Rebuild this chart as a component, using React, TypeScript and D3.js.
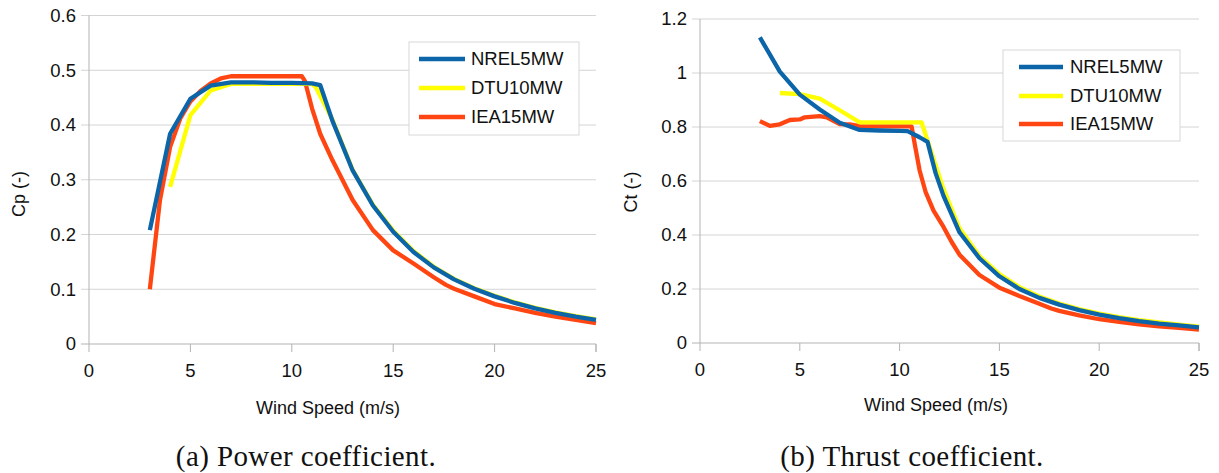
import React from "react";
import * as d3 from "d3";

// ---------- Data ----------
const seriesNames = ["NREL5MW", "DTU10MW", "IEA15MW"];
const seriesColors = ["#0b65a8", "#ffff00", "#ff4612"];

// Power coefficient (Cp)
const nrelCpWind = [3, 4, 5, 6, 7, 8, 9, 10, 11, 11.4, 12, 13, 14, 15, 16, 17, 18, 19, 20, 21, 22, 23, 24, 25];
const nrelCp = [0.208, 0.384, 0.448, 0.472, 0.478, 0.478, 0.477, 0.477, 0.476, 0.473, 0.408, 0.317, 0.253, 0.205, 0.168, 0.14, 0.118, 0.101, 0.087, 0.075, 0.065, 0.057, 0.05, 0.044];

const dtuCpWind = [4, 5, 6, 7, 8, 9, 10, 11, 11.2, 12, 13, 14, 15, 16, 17, 18, 19, 20, 21, 22, 23, 24, 25];
const dtuCp = [0.287, 0.418, 0.463, 0.475, 0.475, 0.475, 0.475, 0.475, 0.468, 0.41, 0.318, 0.254, 0.207, 0.17, 0.141, 0.119, 0.102, 0.088, 0.076, 0.066, 0.058, 0.051, 0.045];

const ieaCpWind = [3, 3.5, 4, 4.5, 5, 5.5, 6, 6.5, 7, 8, 9, 10, 10.5, 10.65, 11, 11.4, 12, 13, 14, 15, 16, 17, 17.6, 18, 19, 20, 21, 22, 23, 24, 25];
const ieaCp = [0.1, 0.263, 0.36, 0.412, 0.443, 0.462, 0.476, 0.485, 0.489, 0.489, 0.489, 0.489, 0.489, 0.48, 0.43, 0.384, 0.336, 0.263, 0.208, 0.171, 0.147, 0.122, 0.108, 0.101, 0.087, 0.073, 0.065, 0.057, 0.05, 0.044, 0.038];

// Thrust coefficient (Ct)
const nrelCtWind = [3, 4, 5, 6, 7, 8, 9, 10, 10.4, 11, 11.4, 11.8, 12.2, 13, 14, 15, 16, 17, 18, 19, 20, 21, 22, 23, 24, 25];
const nrelCt = [1.132, 1.005, 0.92, 0.865, 0.816, 0.789, 0.787, 0.786, 0.785, 0.762, 0.745, 0.63, 0.545, 0.41, 0.314, 0.247, 0.2, 0.167, 0.142, 0.122, 0.105, 0.092, 0.081, 0.072, 0.065, 0.058];

const dtuCtWind = [4, 5, 6, 7, 8, 9, 10, 11, 11.1, 11.4, 11.8, 12.2, 13, 14, 15, 16, 17, 18, 19, 20, 21, 22, 23, 24, 25];
const dtuCt = [0.926, 0.922, 0.905, 0.862, 0.817, 0.817, 0.817, 0.817, 0.817, 0.75, 0.66, 0.57, 0.425, 0.322, 0.255, 0.207, 0.172, 0.146, 0.126, 0.109, 0.096, 0.085, 0.076, 0.068, 0.061];

const ieaCtWind = [3, 3.5, 4, 4.5, 5, 5.25, 6, 6.35, 7, 7.5, 8, 9, 10, 10.6, 10.8, 11, 11.3, 11.7, 12.2, 12.6, 13, 14, 15, 16, 17, 17.6, 18, 19, 20, 21, 22, 23, 24, 25];
const ieaCt = [0.822, 0.804, 0.81, 0.826, 0.828, 0.836, 0.84, 0.836, 0.811, 0.81, 0.803, 0.802, 0.802, 0.802, 0.72, 0.64, 0.56, 0.49, 0.43, 0.375, 0.327, 0.252, 0.205, 0.174, 0.145, 0.128, 0.119, 0.102, 0.088, 0.078, 0.069, 0.062, 0.056, 0.05];

const xTicks = [0, 5, 10, 15, 20, 25];
const cpTicks = [0, 0.1, 0.2, 0.3, 0.4, 0.5, 0.6];
const ctTicks = [0, 0.2, 0.4, 0.6, 0.8, 1, 1.2];

const xTitle = "Wind Speed (m/s)";
const cpTitle = "Cp (-)";
const ctTitle = "Ct (-)";
const captionA = "(a) Power coefficient.";
const captionB = "(b) Thrust coefficient.";

type Series = { x: number[]; y: number[] };

const SANS = "'Liberation Sans', Arial, sans-serif";
const SERIF = "'Liberation Serif', 'DejaVu Serif', serif";
const GRID = "#d4d4d4";
const AXIS = "#b3b3b3";

function Chart(props: {
  left: number; right: number; top: number; bottom: number;
  yMax: number; yTicks: number[]; yTitle: string; yTitleX: number; yTitleY: number;
  xTitleX: number; xTitleY: number;
  series: Series[];
  legend: { x0: number; y0: number; x1: number; y1: number; lineX0: number; lineX1: number; textX: number; rows: number[] };
  fmt: (v: number) => string;
}) {
  const { left, right, top, bottom, yMax, yTicks, series, legend, fmt } = props;
  const x = d3.scaleLinear().domain([0, 25]).range([left, right]);
  const y = d3.scaleLinear().domain([0, yMax]).range([bottom, top]);
  const line = d3.line<[number, number]>().x(d => x(d[0])).y(d => y(d[1]));
  const order = [2, 1, 0];
  return (
    <g>
      {yTicks.map(t => (
        <g key={"y" + t}>
          <line x1={left - 8} x2={right} y1={y(t)} y2={y(t)} stroke={t === 0 ? AXIS : GRID} strokeWidth={1} />
          <text x={left - 13} y={y(t)} dy="0.35em" textAnchor="end" fontFamily={SANS} fontSize={18.5} fill="#111">{fmt(t)}</text>
        </g>
      ))}
      {xTicks.map(t => (
        <g key={"x" + t}>
          <line x1={x(t)} x2={x(t)} y1={t === 0 ? top : bottom} y2={bottom + 8} stroke={AXIS} strokeWidth={1} />
          <text x={x(t)} y={bottom + 33} textAnchor="middle" fontFamily={SANS} fontSize={18.5} fill="#111">{t}</text>
        </g>
      ))}
      <line x1={right} x2={right} y1={bottom} y2={bottom + 8} stroke={AXIS} />
      {order.map(i => (
        <path key={"s" + i}
          d={line(series[i].x.map((v, k) => [v, series[i].y[k]] as [number, number])) || ""}
          fill="none" stroke={seriesColors[i]} strokeWidth={4.3} strokeLinejoin="round" />
      ))}
      <text x={props.xTitleX} y={props.xTitleY} textAnchor="middle" fontFamily={SANS} fontSize={18} fill="#111">{xTitle}</text>
      <text transform={`translate(${props.yTitleX},${props.yTitleY}) rotate(-90)`} textAnchor="middle" dy="0.35em" fontFamily={SANS} fontSize={18} fill="#111">{props.yTitle}</text>
      <rect x={legend.x0} y={legend.y0} width={legend.x1 - legend.x0} height={legend.y1 - legend.y0} fill="#fff" stroke="#d8d8d8" strokeWidth={1} />
      {seriesNames.map((n, i) => (
        <g key={n}>
          <line x1={legend.lineX0} x2={legend.lineX1} y1={legend.rows[i]} y2={legend.rows[i]} stroke={seriesColors[i]} strokeWidth={4.5} />
          <text x={legend.textX} y={legend.rows[i]} dy="0.35em" fontFamily={SANS} fontSize={18.5} fill="#111">{n}</text>
        </g>
      ))}
    </g>
  );
}

export default function App() {
  const fmt1 = (v: number) => (v === 0 ? "0" : d3.format(".1f")(v));
  const fmtCt = (v: number) => (v === 0 || v === 1 ? String(v) : d3.format(".1f")(v));
  return (
    <svg width={1219} height={473} style={{ position: "absolute", left: 0, top: 0, background: "#fff" }}>
      <rect width={1219} height={473} fill="#fff" />
      <Chart left={89} right={596} top={15.5} bottom={344} yMax={0.6} yTicks={cpTicks} yTitle={cpTitle}
        yTitleX={19} yTitleY={194} xTitleX={328} xTitleY={414}
        series={[{ x: nrelCpWind, y: nrelCp }, { x: dtuCpWind, y: dtuCp }, { x: ieaCpWind, y: ieaCp }]}
        legend={{ x0: 409, y0: 42, x1: 579, y1: 135, lineX0: 419, lineX1: 465, textX: 471, rows: [59, 88, 117] }}
        fmt={fmt1} />
      <Chart left={700} right={1199} top={19} bottom={343} yMax={1.2} yTicks={ctTicks} yTitle={ctTitle}
        yTitleX={631} yTitleY={192} xTitleX={936} xTitleY={411}
        series={[{ x: nrelCtWind, y: nrelCt }, { x: dtuCtWind, y: dtuCt }, { x: ieaCtWind, y: ieaCt }]}
        legend={{ x0: 1003, y0: 50, x1: 1180, y1: 141, lineX0: 1019, lineX1: 1063, textX: 1070, rows: [67, 96, 124] }}
        fmt={fmtCt} />
      <text x={306} y={466} textAnchor="middle" fontFamily={SERIF} fontSize={29} letterSpacing={0.4} fill="#111">{captionA}</text>
      <text x={912} y={466} textAnchor="middle" fontFamily={SERIF} fontSize={29} letterSpacing={0.4} fill="#111">{captionB}</text>
    </svg>
  );
}
